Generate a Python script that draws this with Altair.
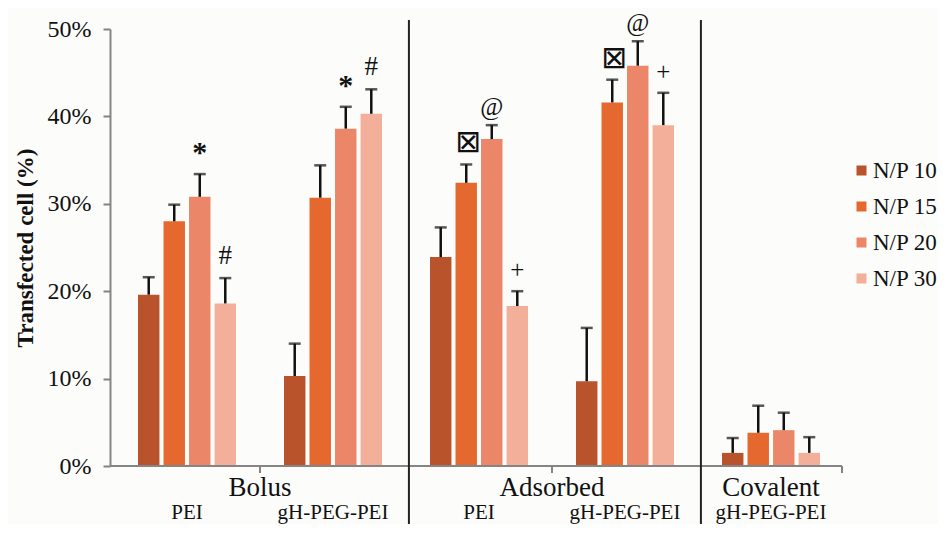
import altair as alt
import pandas as pd

# ---- data -------------------------------------------------------------
groups = ["Bolus|PEI", "Bolus|gH-PEG-PEI", "Adsorbed|PEI",
          "Adsorbed|gH-PEG-PEI", "Covalent|gH-PEG-PEI"]
carriers = ["PEI", "gH-PEG-PEI", "PEI", "gH-PEG-PEI", "gH-PEG-PEI"]
series = ["N/P 10", "N/P 15", "N/P 20", "N/P 30"]

np10 = [19.6, 10.3, 23.9, 9.7, 1.5]
np15 = [28.0, 30.7, 32.4, 41.6, 3.8]
np20 = [30.8, 38.6, 37.4, 45.8, 4.1]
np30 = [18.6, 40.3, 18.3, 39.0, 1.5]

err10 = [2.0, 3.7, 3.4, 6.1, 1.7]
err15 = [1.9, 3.7, 2.1, 2.6, 3.1]
err20 = [2.6, 2.5, 1.6, 2.8, 2.0]
err30 = [2.9, 2.8, 1.7, 3.7, 1.8]

# significance markers: (group, series, symbol)
marks_group = ["Bolus|PEI", "Bolus|PEI", "Bolus|gH-PEG-PEI", "Bolus|gH-PEG-PEI",
               "Adsorbed|PEI", "Adsorbed|PEI", "Adsorbed|PEI",
               "Adsorbed|gH-PEG-PEI", "Adsorbed|gH-PEG-PEI", "Adsorbed|gH-PEG-PEI"]
marks_series = ["N/P 20", "N/P 30", "N/P 20", "N/P 30",
                "N/P 15", "N/P 20", "N/P 30",
                "N/P 15", "N/P 20", "N/P 30"]
marks_symbol = ["*", "#", "*", "#", "⊠", "@", "+", "⊠", "@", "+"]

methods = ["Bolus", "Adsorbed", "Covalent"]
method_anchor = ["Bolus|gH-PEG-PEI", "Adsorbed|gH-PEG-PEI", "Covalent|gH-PEG-PEI"]

colors = ["#B8532B", "#E5692E", "#EC8668", "#F4AF9A"]

# ---- tables -----------------------------------------------------------
vals = [np10, np15, np20, np30]
errs = [err10, err15, err20, err30]
rows = []
for s, v, e in zip(series, vals, errs):
    for g, vv, ee in zip(groups, v, e):
        rows.append({"group": g, "series": s, "value": vv, "upper": vv + ee})
df = pd.DataFrame(rows)

up = {(r["group"], r["series"]): r["upper"] for r in rows}
ann = pd.DataFrame({
    "group": marks_group, "series": marks_series, "symbol": marks_symbol,
    "upper": [up[(g, s)] for g, s in zip(marks_group, marks_series)],
})
sub = pd.DataFrame({"group": groups, "carrier": carriers})
meth = pd.DataFrame({"method": methods, "group": method_anchor})

W, H = 732, 437
FONT = "Liberation Serif"

xs = alt.Scale(domain=groups, range=[4, 734], paddingInner=0, paddingOuter=0)
xo = alt.Scale(domain=series, range=[24, 122], paddingInner=0.16, paddingOuter=0)
ys = alt.Scale(domain=[0, 50], nice=False)

X = alt.X("group:N", scale=xs, sort=groups,
          axis=alt.Axis(labels=False, ticks=False, domain=False, title=None))
XO = alt.XOffset("series:N", scale=xo, sort=series)

bars = alt.Chart(df).mark_bar().encode(
    x=X, xOffset=XO,
    y=alt.Y("value:Q", scale=ys,
            axis=alt.Axis(values=[0, 10, 20, 30, 40, 50],
                          labelExpr="datum.value + '%'",
                          title="Transfected cell (%)",
                          grid=False, tickSize=7, tickWidth=2,
                          tickColor="#858585", domainColor="#858585",
                          domainWidth=2, labelPadding=12,
                          labelFontSize=24, labelFont=FONT, labelColor="#111",
                          titleFont=FONT, titleFontSize=23, titleFontWeight="bold",
                          titleColor="#111", titlePadding=10)),
    color=alt.Color("series:N", sort=series,
                    scale=alt.Scale(domain=series, range=colors),
                    legend=alt.Legend(title=None, orient="none", legendX=740,
                                      legendY=130, symbolType="square",
                                      symbolSize=100, symbolStrokeWidth=0,
                                      labelFont=FONT, labelFontSize=23,
                                      labelColor="#111", labelOffset=0,
                                      rowPadding=12, padding=0)),
)

err_line = alt.Chart(df).mark_rule(color="#111", strokeWidth=2.5).encode(
    x=X, xOffset=XO, y=alt.Y("value:Q", scale=ys), y2="upper:Q")
err_cap = alt.Chart(df).mark_tick(color="#111", thickness=2.5, size=12).encode(
    x=X, xOffset=XO, y=alt.Y("upper:Q", scale=ys))


def sym_layer(symbol, font, size, weight, dy, dx=0):
    return alt.Chart(ann).transform_filter(alt.datum.symbol == symbol).mark_text(
        font=font, fontSize=size, fontWeight=weight, baseline="middle",
        dy=dy, dx=dx, color="#111").encode(
        x=X, xOffset=XO, y=alt.Y("upper:Q", scale=ys), text="symbol:N")


sym_star = sym_layer("*", FONT, 30, "bold", -21)
sym_hash = sym_layer("#", FONT, 27, "normal", -22)
sym_plus = sym_layer("+", FONT, 25, "normal", -21)
sym_at = sym_layer("@", FONT, 25, "normal", -18)
sym_box = sym_layer("⊠", "DejaVu Sans", 31, "normal", -21, 2)

xdomain = alt.Chart(sub).mark_rule(color="#858585", strokeWidth=2).encode(
    x=alt.value(0), x2=alt.value(W), y=alt.value(H))

seps = alt.Chart(pd.DataFrame({"group": ["Adsorbed|PEI", "Covalent|gH-PEG-PEI"]})).mark_rule(
    color="#222", strokeWidth=2).encode(
    x=alt.X("group:N", scale=xs, sort=groups, bandPosition=0.02, axis=None),
    y=alt.value(-9), y2=alt.value(H + 80))

xticks = alt.Chart(meth.iloc[:2]).mark_rule(color="#858585", strokeWidth=2).encode(
    x=alt.X("group:N", scale=xs, sort=groups, bandPosition=0, axis=None),
    y=alt.value(H), y2=alt.value(H + 7))
endtick = alt.Chart(sub).mark_rule(color="#858585", strokeWidth=2).encode(
    x=alt.value(W), y=alt.value(H), y2=alt.value(H + 7))

sublab = alt.Chart(sub).mark_text(font=FONT, fontSize=21, color="#111", baseline="alphabetic").encode(
    x=alt.X("group:N", scale=xs, sort=groups, axis=None),
    y=alt.value(H + 53), text="carrier:N")

methlab1 = alt.Chart(meth.iloc[:2]).mark_text(font=FONT, fontSize=27, color="#111", baseline="middle").encode(
    x=alt.X("group:N", scale=xs, sort=groups, bandPosition=0, axis=None),
    y=alt.value(H + 22), text="method:N")
methlab2 = alt.Chart(meth.iloc[2:]).mark_text(font=FONT, fontSize=27, color="#111", baseline="middle").encode(
    x=alt.X("group:N", scale=xs, sort=groups, axis=None),
    y=alt.value(H + 22), text="method:N")

chart = alt.layer(
    bars, err_line, err_cap, sym_star, sym_hash, sym_plus, sym_at, sym_box,
    xdomain, seps, xticks, endtick, sublab, methlab1, methlab2
).properties(
    width=W, height=H,
    autosize=alt.AutoSizeParams(type="none"),
    padding={"left": 102, "top": 21, "right": 96, "bottom": 58},
    background="#fcfcfa",
).configure_view(stroke=None)

chart.save("out.html", embed_options={"renderer": "svg", "actions": False})
